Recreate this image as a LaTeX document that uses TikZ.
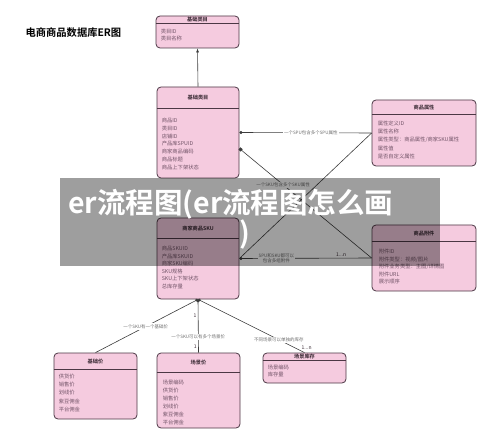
\documentclass[tikz,border=0pt]{standalone}
\usepackage{fontspec}
\setmainfont{Noto Sans CJK SC}[BoldFont={Noto Sans CJK SC Bold}]
\usepackage{xcolor}
\usetikzlibrary{arrows.meta}

\definecolor{entity-fill}{RGB}{245,203,223}
\definecolor{entity-border}{RGB}{75,55,68}
\definecolor{entity-text}{RGB}{55,40,50}
\definecolor{field-text}{RGB}{115,85,105}
\definecolor{relation-line}{RGB}{60,60,60}
\definecolor{label-text}{RGB}{110,110,110}

\begin{document}
\begin{tikzpicture}[x=1pt,y=-1pt,
		entity/.style={draw=entity-border, fill=entity-fill, rounded corners=4pt,
		line width=0.8pt, inner sep=0pt},
		entity-line/.style={draw=entity-border, line width=0.8pt},
		entity-title/.style={font=\fontsize{5.2}{6}\selectfont\bfseries, text=entity-text, inner sep=0pt},
		entity-fields/.style={anchor=north west, align=left, inner sep=0pt,
		font=\fontsize{5.3}{7.8}\selectfont, text=field-text},
		relation/.style={draw=relation-line, line width=0.6pt},
		relation-label/.style={fill=white, inner sep=1pt, font=\fontsize{4.5}{5.5}\selectfont,
		text=label-text},
		cardinal/.style={font=\fontsize{5}{6}\selectfont, text=entity-text, inner sep=1.5pt},
		]

		\useasboundingbox (0,0) rectangle (500,446);

		\def\dot{{Circle[length=3pt]}-}
		\newcommand\header[3]{
			\draw[entity-line] ([yshift=-#2pt]#1.north west) -- ([yshift=-#2pt]#1.north east);
			\node[entity-title] (#1-title) at ([yshift=-#2pt/2]#1.north) {#3};
		}

		\node[font=\fontsize{10.3}{12}\selectfont\bfseries, anchor=west] (diagram-title) at (22,33) {电商商品数据库ER图};

		% entities
		\node[entity, minimum width=83, minimum height=32] (cat) at (197.5,32) {};
		\header{cat}{8}{基础类目}
		\node[entity-fields, font=\fontsize{5.3}{6.8}\selectfont] (cat-fields) at ([xshift=5pt,yshift=-13.3pt]cat.north west)
		{类目ID\\类目名称};

		\node[entity, minimum width=82, minimum height=91] (goods) at (198,132.5) {};
		\header{goods}{22}{基础类目}
		\node[entity-fields] (goods-fields) at ([xshift=5pt,yshift=-31.3pt]goods.north west)
		{商品ID\\类目ID\\店铺ID\\产品库SPUID\\商家商品编码\\商品标题\\商品上下架状态};

		\node[entity, minimum width=104, minimum height=66] (attr) at (424,133) {};
		\header{attr}{15}{商品属性}
		\node[entity-fields, font=\fontsize{5.3}{8.2}\selectfont] (attr-fields) at ([xshift=6pt,yshift=-21.3pt]attr.north west)
		{属性定义ID\\属性名称\\属性类型：商品属性/商家SKU属性\\属性值\\是否自定义属性};

		\node[entity, minimum width=82, minimum height=81] (sku) at (198,258.5) {};
		\header{sku}{21}{商家商品SKU}
		\node[entity-fields, font=\fontsize{5.3}{7.6}\selectfont] (sku-fields) at ([xshift=5pt,yshift=-28.3pt]sku.north west)
		{商品SKUID\\产品库SKUID\\商家SKU编码\\SKU规格\\SKU上下架状态\\总库存量};

		\node[entity, minimum width=104, minimum height=66] (attach) at (424,258) {};
		\header{attach}{17}{商品附件}
		\node[entity-fields, font=\fontsize{5.3}{7.5}\selectfont] (attach-fields) at ([xshift=7pt,yshift=-24.3pt]attach.north west)
		{附件ID\\附件类型：视频/图片\\附件业务类型：主图/详情图\\附件URL\\展示顺序};

		\node[entity, minimum width=83, minimum height=66] (base) at (95.5,386) {};
		\header{base}{17}{基础价}
		\node[entity-fields, font=\fontsize{5.3}{8.2}\selectfont] (base-fields) at ([xshift=5pt,yshift=-21.3pt]base.north west)
		{供货价\\销售价\\划线价\\紫豆佣金\\平台佣金};

		\node[entity, minimum width=83, minimum height=75] (scene) at (198.5,390.5) {};
		\header{scene}{20}{场景价}
		\node[entity-fields, font=\fontsize{5.3}{8}\selectfont] (scene-fields) at ([xshift=6pt,yshift=-27.3pt]scene.north west)
		{场景编码\\供货价\\销售价\\划线价\\紫豆佣金\\平台佣金};

		\node[entity, minimum width=83, minimum height=30] (stock) at (304.5,368) {};
		\header{stock}{8}{场景库存}
		\node[entity-fields, font=\fontsize{5.3}{7}\selectfont] (stock-fields) at ([xshift=5pt,yshift=-12.3pt]stock.north west)
		{场景编码\\库存量};

		% relations
		\draw[relation, -{Latex[length=4pt,width=3pt]}] (goods.north) -- (cat.south);
		\draw[relation, \dot] (goods.east) --
		node[relation-label, pos=0.54] {一个SPU包含多个SPU属性} (attr.west);
		\draw[relation, {Square[length=3pt]}-] ([yshift=-16pt]goods.east) --
		node[relation-label, pos=0.33] {一个SKU包含多个SKU属性} (attach.west);
		\draw[relation] (attr.west) -- (sku.east);
		\draw[relation, \dot] (sku.east) --
		node[relation-label, pos=0.28, align=center] {SPU和SKU都可以\\包含多组附件}
		node[cardinal, pos=0.77, above] {1...n} (attach.west);

		\draw[relation, \dot] (sku.south) --
		node[relation-label, pos=0.51] {一个SKU有一个基础价} (base.north);
		\draw[relation, \dot] (sku.south) --
		node[cardinal, pos=0.3, left] {1}
		node[relation-label, pos=0.7] {一个SKU可以有多个场景价}
		node[cardinal, pos=0.89, left] {1} (scene.north);
		\draw[relation, \dot] (sku.south) --
		node[relation-label, pos=0.76] {不同场景可以单独的库存}
		node[cardinal, pos=0.9, right=6pt] {1...n} (stock.north);

		% watermark band
		\fill[black, opacity=0.38] (60,178) rectangle (440,266);
		\node[font=\fontsize{28.5}{31}\selectfont\bfseries, text=white, anchor=west, inner sep=0pt] (mark-top) at (68,204)
		{er流程图(er流程图怎么画};
		\node[font=\fontsize{28.5}{31}\selectfont\bfseries, text=white, inner sep=0pt] (mark-bottom) at (245,235) {)};

	\end{tikzpicture}
\end{document}
